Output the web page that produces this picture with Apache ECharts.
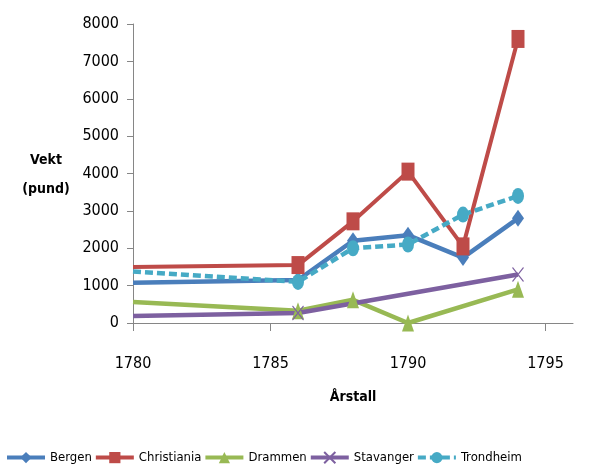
<!DOCTYPE html>
<html>
<head>
<meta charset="utf-8">
<script src="https://cdn.jsdelivr.net/npm/echarts@6/dist/echarts.min.js"></script>
<style>
html,body{margin:0;padding:0;background:#fff;}
#chart{width:600px;height:471px;}
</style>
</head>
<body>
<div id="chart"></div>
<script>
const years = [1780, 1786, 1788, 1790, 1792, 1794];
const bergen = [1080, 1150, 2200, 2350, 1750, 2800];
const christiania = [1500, 1550, 2720, 4050, 2050, 7600];
const drammen = [560, 330, 620, 0, null, 900];
const stavanger = [190, 270, null, null, null, 1300];
const trondheim = [1380, 1100, 2000, 2100, 2900, 3400];
const seriesNames = ['Bergen', 'Christiania', 'Drammen', 'Stavanger', 'Trondheim'];
const xTicks = [1780, 1785, 1790, 1795];

const FONT = '"Liberation Sans Narrow", "DejaVu Sans Condensed", "Arial Narrow", sans-serif';

function build(vals) {
  const out = [];
  vals.forEach((v, i) => {
    if (v === null) return;
    if (years[i] === 1780) out.push({ value: [years[i], v], symbol: 'none' });
    else out.push({ value: [years[i], v] });
  });
  return out;
}

const chart = echarts.init(document.getElementById('chart'), null, { renderer: 'canvas' });

const option = {
  animation: false,
  backgroundColor: '#ffffff',
  grid: { left: 133, right: 27, top: 24, bottom: 148, containLabel: false },
  graphic: [{
    type: 'text',
    x: 46, y: 175,
    style: {
      text: 'Vekt\n(pund)',
      font: 'bold 14px ' + FONT,
      fill: '#000',
      textAlign: 'center',
      textVerticalAlign: 'middle',
      lineHeight: 29
    }
  }],
  legend: {
    left: 0,
    top: 446,
    itemWidth: 38,
    itemHeight: 14,
    itemGap: 2,
    lineStyle: { width: 4 },
    textStyle: { fontFamily: FONT, fontSize: 13, color: '#000' },
    data: seriesNames
  },
  xAxis: {
    type: 'value',
    min: 1780,
    max: 1796,
    interval: 5,
    name: 'Årstall',
    nameLocation: 'middle',
    nameGap: 67,
    nameTextStyle: { fontFamily: FONT, fontSize: 14, fontWeight: 'bold', color: '#000' },
    axisLine: { show: true, lineStyle: { color: '#868686', width: 1 } },
    axisTick: { show: true, length: 8, lineStyle: { color: '#868686' }, customValues: xTicks },
    axisLabel: { margin: 33, fontFamily: FONT, fontSize: 16, color: '#000', customValues: xTicks,
      formatter: v => String(v) },
    splitLine: { show: false }
  },
  yAxis: {
    type: 'value',
    min: 0,
    max: 8000,
    interval: 1000,
    axisLine: { show: true, lineStyle: { color: '#868686', width: 1 } },
    axisTick: { show: true, length: 6, lineStyle: { color: '#868686' } },
    axisLabel: { margin: 14, fontFamily: FONT, fontSize: 16, color: '#000', formatter: v => String(v) },
    splitLine: { show: false }
  },
  series: [
    {
      name: 'Bergen', type: 'line', data: build(bergen),
      symbol: 'diamond', symbolSize: [12, 17],
      itemStyle: { color: '#4A7EBB' },
      lineStyle: { width: 4.5, color: '#4A7EBB' }
    },
    {
      name: 'Christiania', type: 'line', data: build(christiania),
      symbol: 'rect', symbolSize: [13, 18],
      itemStyle: { color: '#BE4B48' },
      lineStyle: { width: 4, color: '#BE4B48' }
    },
    {
      name: 'Drammen', type: 'line', data: build(drammen),
      symbol: 'triangle', symbolSize: [12, 17],
      itemStyle: { color: '#98B954' },
      lineStyle: { width: 4.5, color: '#98B954' }
    },
    {
      name: 'Stavanger', type: 'line', data: build(stavanger),
      symbol: 'path://M0,0L10,13M10,0L0,13', symbolSize: [11, 14],
      itemStyle: { color: '#7D60A0', borderColor: '#7D60A0', borderWidth: 1.2 },
      lineStyle: { width: 4.5, color: '#7D60A0' }
    },
    {
      name: 'Trondheim', type: 'line', data: build(trondheim),
      symbol: 'circle', symbolSize: [12, 16],
      itemStyle: { color: '#46AAC5' },
      lineStyle: { width: 4.5, color: '#46AAC5', type: [8, 4] }
    }
  ]
};
chart.setOption(option);
</script>
</body>
</html>
